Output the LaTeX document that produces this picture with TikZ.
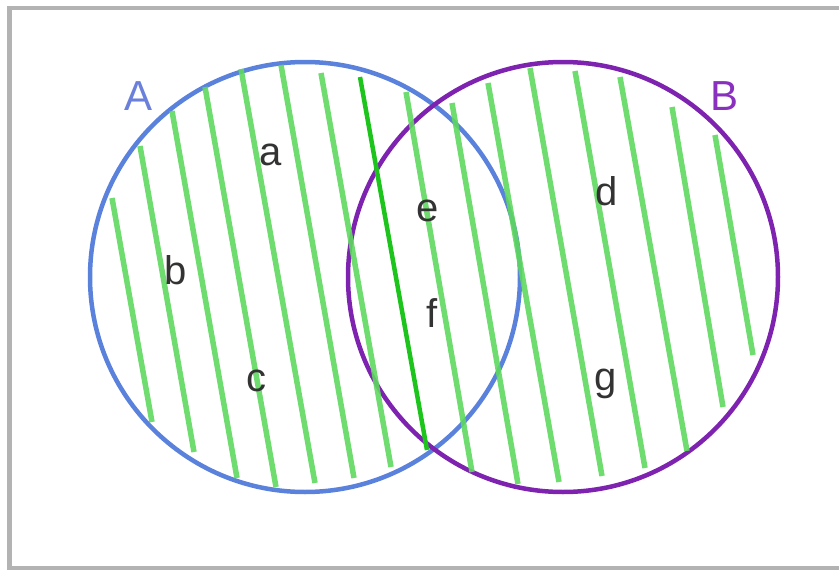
\documentclass[tikz,border=0pt]{standalone}
\usepackage{fontspec}
\setmainfont{Liberation Sans}
\definecolor{framegray}{HTML}{B3B3B3}
\definecolor{setA}{HTML}{5A82DC}
\definecolor{setB}{HTML}{7E22B0}
\definecolor{labA}{HTML}{6A80DA}
\definecolor{labB}{HTML}{8A30BE}
\definecolor{hatch}{HTML}{5ED85E}
\definecolor{hatchdark}{HTML}{1CC41C}
\definecolor{txt}{HTML}{333333}
\begin{document}
\begin{tikzpicture}[x=1pt,y=-1pt,
  frameline/.style={draw=framegray,line width=4.5pt},
  setcircle/.style={circle,draw,line width=4.5pt,minimum size=430pt,inner sep=0pt},
  hatchline/.style={draw=hatch,line width=5.5pt,opacity=0.9},
  hatchbold/.style={draw=hatchdark,line width=4.5pt},
  region/.style={anchor=base,inner sep=0pt,text=txt,font=\fontsize{40}{48}\selectfont},
  setlabel/.style={anchor=base,inner sep=0pt,font=\fontsize{42}{50}\selectfont}]
\useasboundingbox (0,0) rectangle (839,570);
\clip (0,0) rectangle (839,570);
\draw[frameline] (9.5,8) rectangle (860,568);
\node[setcircle,draw=setA] (A) at (305,277) {};
\node[setcircle,draw=setB] (B) at (563,277) {};
\foreach \xa/\ya/\xb/\yb in {112/198/152/422, 140/146/194/452, 172/111/237/478,
  205/87/276/487, 241/69/315/483, 281/65/354/478, 321/73/391/467,
  406/92/472/472, 452/103/518/484, 488/83/559/482, 530/68/602/476,
  575/71/645/468, 620/77/687/451, 672/107/723/407, 715/135/753/355}
  \draw[hatchline] (\xa,\ya) -- (\xb,\yb);
\draw[hatchbold] (360,77) -- (427,450);
\node[setlabel,text=labA] (labelA) at (139,110) {A};
\node[setlabel,text=labB] (labelB) at (725,110) {B};
\node[region] (ra) at (271,165) {a};
\node[region] (rb) at (176,284) {b};
\node[region] (rc) at (256,391) {c};
\node[region] (rd) at (607,205) {d};
\node[region] (re) at (428,221) {e};
\node[region] (rf) at (432,327) {f};
\node[region] (rg) at (606,390) {g};
\end{tikzpicture}
\end{document}
